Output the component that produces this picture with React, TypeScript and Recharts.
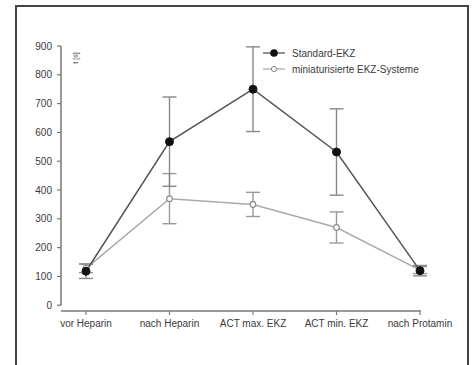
import React from "react";
import { LineChart, Line, XAxis, YAxis, ErrorBar, Legend } from "recharts";

const categories = ["vor Heparin", "nach Heparin", "ACT max. EKZ", "ACT min. EKZ", "nach Protamin"];
const standardValues = [118, 568, 750, 532, 120];
const standardErrors = [25, 155, 147, 150, 18];
const miniValues = [128, 370, 350, 270, 122];
const miniErrors = [15, 87, 42, 54, 12];
const yTicks = [0, 100, 200, 300, 400, 500, 600, 700, 800, 900];
const seriesNames = ["Standard-EKZ", "miniaturisierte EKZ-Systeme"];

const data = categories.map((c, i) => ({
  cat: c,
  std: standardValues[i],
  stdErr: standardErrors[i],
  mini: miniValues[i],
  miniErr: miniErrors[i],
}));

const FONT = "'Liberation Sans', Arial, sans-serif";

const LegendContent = () => (
  <div style={{ fontFamily: FONT, fontSize: 10, color: "#3a3a3a" }}>
    {seriesNames.map((n, i) => (
      <div key={n} style={{ display: "flex", alignItems: "center", height: 16 }}>
        <svg width={26} height={10} style={{ marginRight: 4 }}>
          <line x1={1} y1={5} x2={23} y2={5} stroke={i === 0 ? "#555" : "#aaa"} strokeWidth={1.3} />
          {i === 0 ? (
            <circle cx={12} cy={5} r={3.8} fill="#111" />
          ) : (
            <circle cx={12} cy={5} r={2.6} fill="#fff" stroke="#888" strokeWidth={1} />
          )}
        </svg>
        <span>{n}</span>
      </div>
    ))}
  </div>
);

export default function App() {
  return (
    <div style={{ position: "absolute", left: 0, top: 0, width: 473, height: 365, overflow: "hidden", background: "#fff", fontFamily: FONT }}>
      <style>{"html, body { margin: 0; overflow: hidden; }"}</style>
      <svg width={473} height={365} style={{ position: "absolute", left: 0, top: 0 }}>
        <path d="M16 366 L16 6 L468 6 L468 366" fill="none" stroke="#444" strokeWidth={2} />
        <text x={78} y={58} fontSize={7} fill="#444" fontFamily={FONT} textAnchor="middle" transform="rotate(-90 78 58)">
          t [s]
        </text>
      </svg>
      <div style={{ position: "absolute", left: 0, top: 0 }}>
        <LineChart width={473} height={365} data={data} margin={{ top: 46, right: 52, bottom: 24, left: 0 }}>
          <XAxis
            dataKey="cat"
            padding={{ left: 25, right: 1 }}
            height={30}
            tickSize={4}
            tickMargin={5}
            interval={0}
            axisLine={{ stroke: "#777", strokeWidth: 1.5 }}
            tickLine={{ stroke: "#777", strokeWidth: 1.2 }}
            tick={{ fill: "#3a3a3a", fontSize: 10, fontFamily: FONT }}
          />
          <YAxis
            domain={[-20, 900]}
            ticks={yTicks}
            width={61}
            tickSize={4}
            tickMargin={5}
            allowDataOverflow
            axisLine={{ stroke: "#777", strokeWidth: 1.5, strokeDasharray: "259.5 30" }}
            tickLine={{ stroke: "#777", strokeWidth: 1.2 }}
            tick={{ fill: "#3a3a3a", fontSize: 10, fontFamily: FONT }}
          />
          <Legend
            layout="vertical"
            align="center"
            verticalAlign="middle"
            wrapperStyle={{ left: 262, top: 45, width: 200 }}
            content={() => <LegendContent />}
          />
          <Line
            dataKey="mini"
            name={seriesNames[1]}
            stroke="#aaa"
            strokeWidth={1.5}
            isAnimationActive={false}
            dot={{ r: 2.8, fill: "#fff", stroke: "#888", strokeWidth: 1.1 }}
          >
            <ErrorBar dataKey="miniErr" direction="y" width={7} stroke="#999" strokeWidth={1.4} />
          </Line>
          <Line
            dataKey="std"
            name={seriesNames[0]}
            stroke="#555"
            strokeWidth={1.5}
            isAnimationActive={false}
            dot={{ r: 4, fill: "#111", stroke: "#111", strokeWidth: 1 }}
          >
            <ErrorBar dataKey="stdErr" direction="y" width={7} stroke="#888" strokeWidth={1.4} />
          </Line>
        </LineChart>
      </div>
    </div>
  );
}
